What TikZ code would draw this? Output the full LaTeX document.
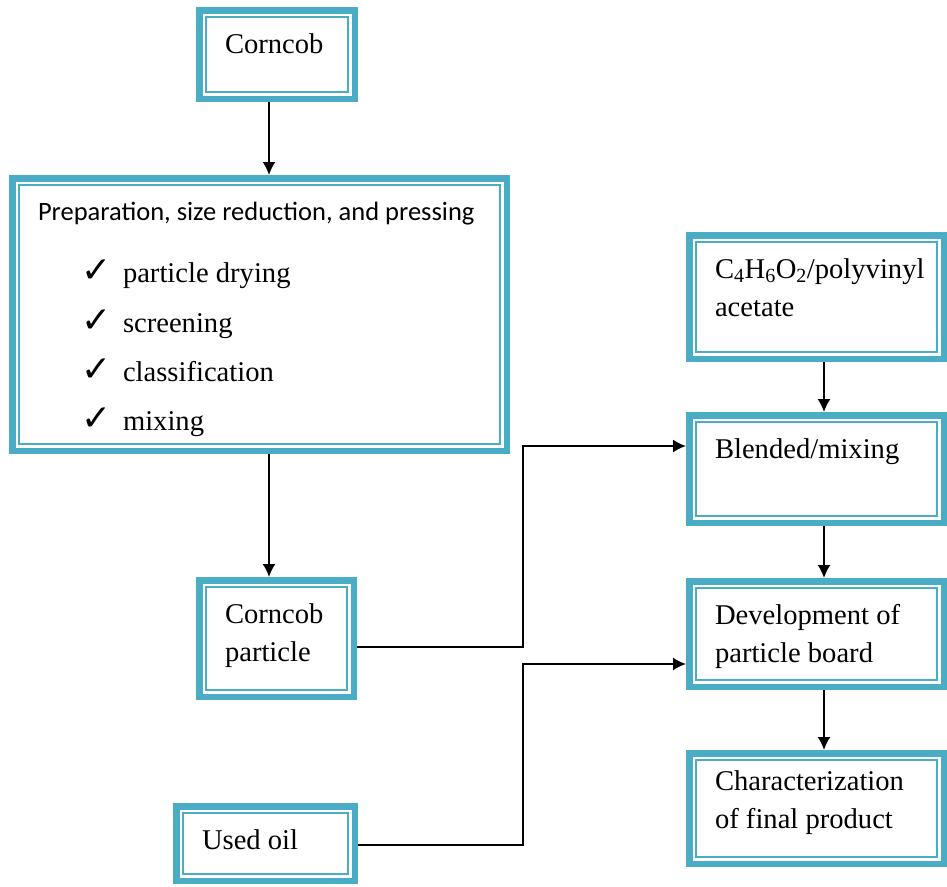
\documentclass[tikz,border=0pt]{standalone}
\usepackage{fontspec}
\setmainfont{Liberation Serif}
\newfontfamily\calibri{Carlito}
\newfontfamily\symfont{DejaVu Sans}
\usetikzlibrary{arrows.meta}

\definecolor{boxteal}{HTML}{4BACC6}

% text block that sits at the top left of a box
\newcommand{\boxtext}[3]{\parbox[c][#2][t]{#1}{\raggedright\strut #3}}
\newcommand{\checkitem}{\hspace*{43pt}\makebox[42pt][l]{\symfont\fontsize{36}{36}\selectfont ✓}}

\begin{document}
\begin{tikzpicture}[x=1pt, y=-1pt, >={Latex[length=13pt,width=13pt]}, line join=miter]

% --- Global TikZ Styles ---
\tikzset{
    box/.style={
        draw=boxteal,
        line width=6.5pt,
        fill=white,
        inner xsep=25.75pt,
        inner ysep=16.15pt,
        font=\fontsize{28.6}{38}\selectfont,
        path picture={
            \draw[boxteal, line width=1.8pt]
                ([shift={(6.8pt,6.8pt)}]path picture bounding box.south west)
                rectangle
                ([shift={(-6.8pt,-6.8pt)}]path picture bounding box.north east);
        }
    },
    flow/.style={
        ->,
        line width=1.8pt,
        draw=black
    }
}

\useasboundingbox (0,0) rectangle (947,886);

% --- Left column ---
\node[box] (corncob) at (277,54.5)
    {\boxtext{104pt}{56.2pt}{Corncob}};

\node[box, inner ysep=15.15pt] (prep) at (259.5,314.5)
    {\boxtext{443pt}{242.2pt}{{\calibri\fontsize{26.5}{38}\selectfont Preparation, size reduction, and pressing}\\[24pt]
     \checkitem particle drying\\[12pt]
     \checkitem screening\\[11pt]
     \checkitem classification\\[11pt]
     \checkitem mixing}};

\node[box] (particle) at (276.5,638.5)
    {\boxtext{103pt}{84.2pt}{Corncob\\particle}};

\node[box] (usedoil) at (265.5,843.5)
    {\boxtext{127pt}{42.2pt}{Used oil}};

% --- Right column ---
\node[box] (acetate) at (816.5,297)
    {\boxtext{203pt}{91.2pt}{C\textsubscript{4}H\textsubscript{6}O\textsubscript{2}/polyvinyl\\acetate}};

\node[box] (blended) at (816.5,469)
    {\boxtext{203pt}{75.2pt}{Blended/mixing}};

\node[box] (development) at (816.5,634)
    {\boxtext{203pt}{73.2pt}{Development of\\particle board}};

\node[box, inner ysep=10.15pt] (characterization) at (816.5,808.5)
    {\boxtext{203pt}{90.2pt}{Characterization\\of final product}};

% --- Lanes for the connectors ---
\coordinate (lane) at (269,0);
\coordinate (rlane) at (824,0);
\coordinate (j1) at (523,446);
\coordinate (j2) at (523,664);

% --- Connectors ---
\draw[flow] (corncob.south -| lane) -- (prep.north -| lane);
\draw[flow] (prep.south -| lane) -- (particle.north -| lane);

\draw[flow] (acetate.south -| rlane) -- (blended.north -| rlane);
\draw[flow] (blended.south -| rlane) -- (development.north -| rlane);
\draw[flow] (development.south -| rlane) -- (characterization.north -| rlane);

\draw[flow] ([yshift=-8.5pt]particle.east) -| (j1) -- (j1 -| blended.west);
\draw[flow] ([yshift=-1.5pt]usedoil.east) -| (j2) -- (j2 -| development.west);

\end{tikzpicture}
\end{document}
